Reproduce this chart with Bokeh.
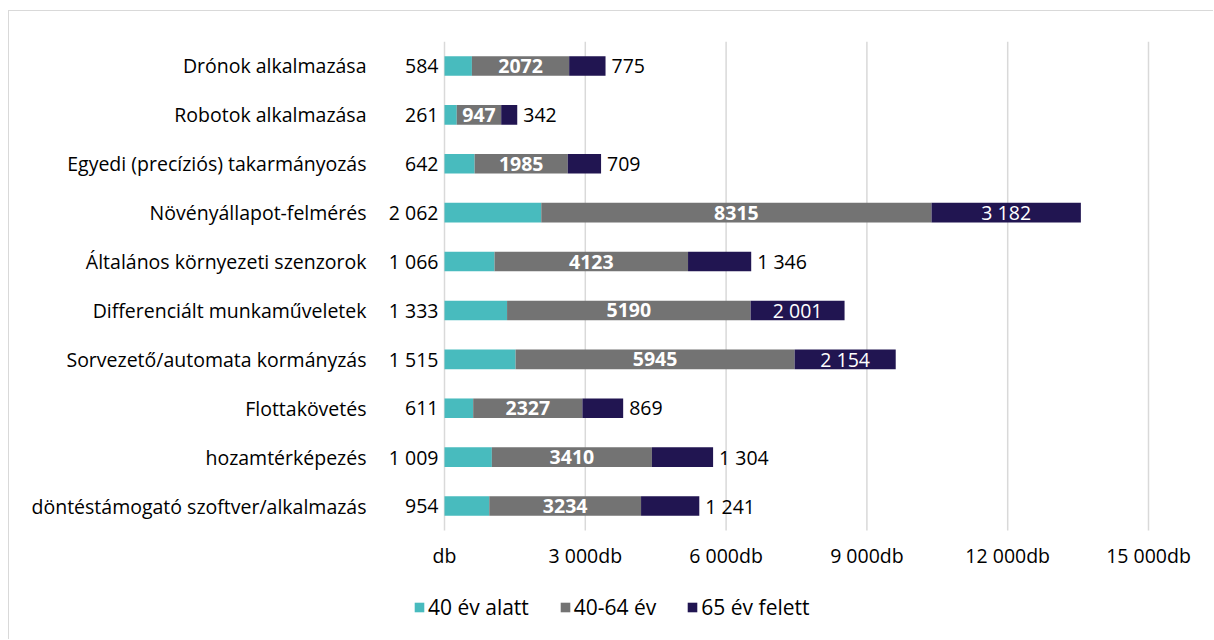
from bokeh.plotting import figure
from bokeh.models import ColumnDataSource, Range1d, Legend, LegendItem
from bokeh.core.properties import value
from bokeh.embed import file_html
from bokeh.resources import INLINE

categories = [
    "Drónok alkalmazása",
    "Robotok alkalmazása",
    "Egyedi (precíziós) takarmányozás",
    "Növényállapot-felmérés",
    "Általános környezeti szenzorok",
    "Differenciált munkaműveletek",
    "Sorvezető/automata kormányzás",
    "Flottakövetés",
    "hozamtérképezés",
    "döntéstámogató szoftver/alkalmazás",
]
under40 = [584, 261, 642, 2062, 1066, 1333, 1515, 611, 1009, 954]
mid40_64 = [2072, 947, 1985, 8315, 4123, 5190, 5945, 2327, 3410, 3234]
over65 = [775, 342, 709, 3182, 1346, 2001, 2154, 869, 1304, 1241]
series_names = ["40 év alatt", "40-64 év", "65 év felett"]
colors = ["#48BBBE", "#737373", "#211551"]
tick_values = [0, 3000, 6000, 9000, 12000, 15000]
tick_labels = ["db", "3 000db", "6 000db", "9 000db", "12 000db", "15 000db"]

FONT = "Open Sans"
FS = "19.5px"
LEGEND_FS = "21px"

# layout constants (pixels)
ZERO_PX = 435          # canvas x of value 0
SCALE_PX = 704         # pixels spanning 0..15000
RIGHT_PX = 65          # free pixels right of the 15000 gridline
XMAX = 15000
x_start = -ZERO_PX * XMAX / SCALE_PX
x_end = XMAX + RIGHT_PX * XMAX / SCALE_PX
BAND_PX = 48.9         # pixels per category band
FRAME_H = 598
n = len(categories)
y_top = n - 0.5
y_bottom = y_top - FRAME_H / BAND_PX


def fmt(v):
    return f"{v:,}".replace(",", "\u00a0")


ypos = [n - 1 - i for i in range(n)]
src = ColumnDataSource(dict(y=ypos, a=under40, b=mid40_64, c=over65))

p = figure(
    x_range=Range1d(x_start, x_end), y_range=Range1d(y_bottom, y_top),
    x_axis_location=None, y_axis_location=None,
    frame_width=ZERO_PX + SCALE_PX + RIGHT_PX, frame_height=FRAME_H,
    min_border_left=0, min_border_top=30, min_border_right=0, min_border_bottom=0,
    output_backend="svg", toolbar_location=None,
)
p.styles = {"margin-left": "8px", "margin-top": "10px",
            "border-left": "1px solid #d9d9d9", "border-top": "1px solid #d9d9d9"}
p.outline_line_color = None
p.background_fill_color = "white"
p.border_fill_color = "white"
p.xgrid.grid_line_color = None
p.ygrid.grid_line_color = None

# vertical gridlines at tick values, spanning the category bands
p.segment(x0=tick_values, x1=tick_values, y0=[-0.5] * len(tick_values),
          y1=[n - 0.5] * len(tick_values), line_color="#d9d9d9", line_width=1.5)

renderers = p.hbar_stack(["a", "b", "c"], y="y", height=0.4, color=colors,
                         line_color=None, source=src)

# tick labels
p.text(x=tick_values, y=[-0.5] * len(tick_values), text=tick_labels, y_offset=25,
       text_align="center", text_baseline="middle", text_font=value(FONT),
       text_font_size=FS, text_color="black")

# category labels
cat_src = ColumnDataSource(dict(y=ypos, x=[0] * n, t=categories))
p.text(x="x", y="y", text="t", source=cat_src, x_offset=-78,
       text_align="right", text_baseline="middle", text_font=value(FONT),
       text_font_size=FS, text_color="black")

# value labels
left_src = ColumnDataSource(dict(y=ypos, x=[0] * n, t=[fmt(v) for v in under40]))
p.text(x="x", y="y", text="t", source=left_src, x_offset=-6,
       text_align="right", text_baseline="middle", text_font=value(FONT),
       text_font_size=FS, text_color="black")

mid_src = ColumnDataSource(dict(y=ypos,
                                x=[a + b / 2 for a, b in zip(under40, mid40_64)],
                                t=[str(v) for v in mid40_64]))
p.text(x="x", y="y", text="t", source=mid_src, text_align="center",
       text_baseline="middle", text_font=value(FONT), text_font_size=FS,
       text_font_style="bold", text_color="white")

in_x, in_y, in_t, out_x, out_y, out_t = [], [], [], [], [], []
for yy, a, b, c in zip(ypos, under40, mid40_64, over65):
    if c >= 2000:
        in_x.append(a + b + c / 2); in_y.append(yy); in_t.append(fmt(c))
    else:
        out_x.append(a + b + c); out_y.append(yy); out_t.append(fmt(c))
p.text(x="x", y="y", text="t", source=ColumnDataSource(dict(x=in_x, y=in_y, t=in_t)),
       text_align="center", text_baseline="middle", text_font=value(FONT),
       text_font_size=FS, text_color="white")
p.text(x="x", y="y", text="t", source=ColumnDataSource(dict(x=out_x, y=out_y, t=out_t)),
       x_offset=6, text_align="left", text_baseline="middle", text_font=value(FONT),
       text_font_size=FS, text_color="black")

legend = Legend(
    items=[LegendItem(label=nm, renderers=[r]) for nm, r in zip(series_names, renderers)],
    orientation="horizontal", location=(404, 18),
    label_text_font=FONT, label_text_font_size=LEGEND_FS, label_text_color="black",
    glyph_width=12, glyph_height=12, label_standoff=3, spacing=30,
    border_line_color=None, background_fill_alpha=0,
    padding=0, margin=0,
)
p.add_layout(legend, "center")

open("out.html", "w").write(file_html(p, INLINE))
